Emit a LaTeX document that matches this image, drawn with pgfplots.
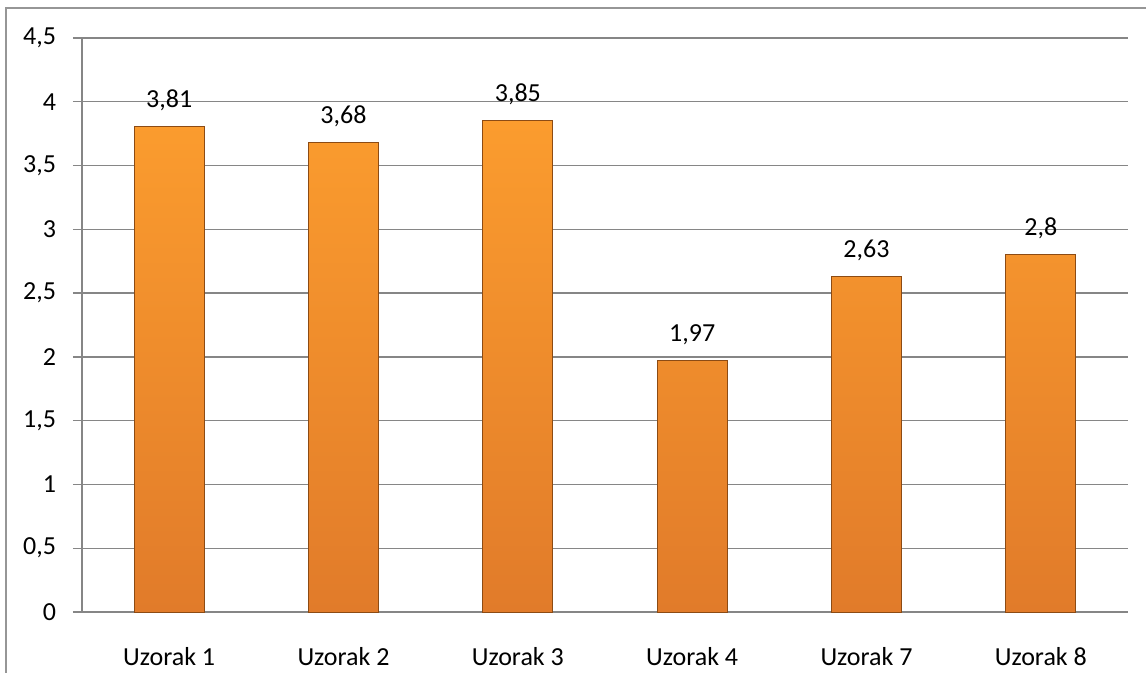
\documentclass[border=0pt]{standalone}
\usepackage{pgfplots}
\pgfplotsset{compat=1.18}
\usepackage{fontspec}
\setmainfont{Carlito}
\definecolor{gridc}{RGB}{134,134,134}
\definecolor{bartop}{RGB}{251,156,46}
\definecolor{barbot}{RGB}{225,123,42}
\definecolor{baredge}{RGB}{140,75,20}
\definecolor{framec}{RGB}{150,150,150}
\begin{document}
\fontsize{19.5}{23}\selectfont
\begin{tikzpicture}
\useasboundingbox (-61.5pt,-45.75pt) rectangle (798pt,459pt);
\draw[framec, line width=0.9pt] (-57pt,-45.75pt) -- (-57pt,453pt) -- (798pt,453pt);
\begin{axis}[
  at={(0pt,0pt)}, anchor=origin,
  scale only axis,
  width=784.5pt, height=430.5pt,
  ymin=0, ymax=4.5,
  xmin=0, xmax=6,
  ytick={0,0.5,...,4.5},
  xtick={0.5,1.5,2.5,3.5,4.5,5.5},
  xticklabels={Uzorak 1,Uzorak 2,Uzorak 3,Uzorak 4,Uzorak 7,Uzorak 8},
  axis x line*=bottom,
  axis y line*=left,
  axis line style={gridc, line width=1pt, -},
  ymajorgrids,
  grid style={gridc, line width=1pt},
  major grid style={gridc, line width=1pt},
  xtick style={draw=none},
  ytick style={gridc, line width=1pt},
  tick align=outside,
  major tick length=6.75pt,
  /pgf/number format/assume math mode=true,
  /pgf/number format/use comma,
  /pgf/number format/1000 sep={},
  ticklabel style={font=\fontsize{19.5}{23}\selectfont},
  yticklabel style={anchor=east, inner sep=0pt, xshift=-12.5pt},
  xticklabel style={anchor=north, inner sep=0pt, yshift=-20pt},
  clip=false,
]
\addplot[ybar, bar width=52.5pt, draw=baredge, line width=0.6pt,
  shading=axis, top color=bartop, bottom color=barbot,
  nodes near coords,
  nodes near coords style={anchor=base, inner sep=0pt, yshift=14.25pt, text=black, font=\fontsize{19.5}{23}\selectfont},
  point meta=explicit symbolic]
  coordinates {
  (0.5,3.81) [3,81]
  (1.5,3.68) [3,68]
  (2.5,3.85) [3,85]
  (3.5,1.97) [1,97]
  (4.5,2.63) [2,63]
  (5.5,2.8) [2,8]
};
\end{axis}
\end{tikzpicture}
\end{document}
